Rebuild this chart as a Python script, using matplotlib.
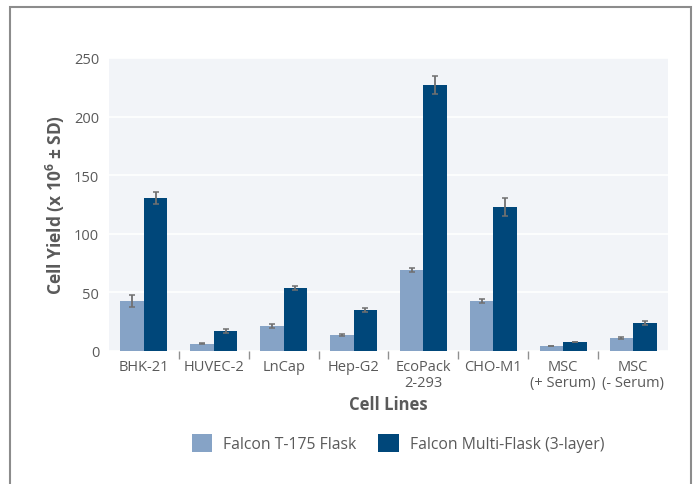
import numpy as np
import matplotlib
matplotlib.use("Agg")
import matplotlib.pyplot as plt
from matplotlib.patches import Rectangle

plt.rcParams['font.family'] = ['Open Sans', 'DejaVu Sans']
plt.rcParams['mathtext.fontset'] = 'custom'
plt.rcParams['mathtext.rm'] = 'Open Sans'
plt.rcParams['mathtext.bf'] = 'Open Sans:bold'

cell_lines = ['BHK-21', 'HUVEC-2', 'LnCap', 'Hep-G2', 'EcoPack\n2-293',
              'CHO-M1', 'MSC\n(+ Serum)', 'MSC\n(- Serum)']
t175 = [42.5, 6.0, 21.0, 13.4, 69.0, 42.5, 4.0, 10.8]
t175_sd = [5.5, 0.5, 1.5, 0.5, 1.7, 1.7, 0.3, 0.5]
multi = [130.5, 16.8, 53.5, 34.8, 227.0, 122.5, 7.4, 23.6]
multi_sd = [5.0, 1.8, 1.8, 1.8, 8.0, 7.5, 0.3, 1.8]

light = '#86a3c6'
dark = '#00477a'
txt = '#5a5a5a'

fig = plt.figure(figsize=(6.96, 4.85), dpi=100)
# outer frame
fig.patches.append(Rectangle((10 / 696, -0.1), 681 / 696, 1.1 - 8 / 485,
                             transform=fig.transFigure, fill=False,
                             edgecolor='#8c8c8c', linewidth=1.5))

ax = fig.add_axes([109 / 696, 1 - 351.7 / 485, 559 / 696, 292.7 / 485])
ax.set_facecolor('#f2f4f8')

x = np.arange(len(cell_lines))
w = 0.336
err_kw = dict(ecolor='#707070', elinewidth=1.3, capsize=2.5, capthick=1.1)
ax.bar(x - w / 2, t175, w, yerr=t175_sd, color=light, label='Falcon T-175 Flask',
       error_kw=err_kw, zorder=3)
ax.bar(x + w / 2, multi, w, yerr=multi_sd, color=dark,
       label='Falcon Multi-Flask (3-layer)', error_kw=err_kw, zorder=3)

ax.set_xlim(-0.5, len(cell_lines) - 0.5)
ax.set_ylim(0, 250)
ax.set_yticks([0, 50, 100, 150, 200, 250])
ax.yaxis.grid(True, color='white', linewidth=1.2, zorder=1)
ax.set_axisbelow(True)
for s in ax.spines.values():
    s.set_visible(False)

ax.set_xticks(x)
ax.set_xticklabels(cell_lines, linespacing=1.05)
ax.set_xticks(np.arange(0.5, len(cell_lines) - 1, 1.0), minor=True)
ax.tick_params(axis='x', which='major', length=0, pad=6, labelsize=10.5, labelcolor=txt)
ax.tick_params(axis='x', which='minor', length=6, width=1, color='#909090',
               direction='out')
ax.tick_params(axis='y', length=0, pad=7, labelsize=10.5, labelcolor=txt)

ax.set_ylabel(r'Cell Yield (x 10$^{\mathbf{6}}$ ± SD)', fontsize=12.5,
              fontweight='bold', color=txt, labelpad=5)
ax.set_xlabel('Cell Lines', fontsize=12, fontweight='bold', color=txt, labelpad=4)

leg = fig.legend(loc='center', bbox_to_anchor=(398 / 696, 1 - 444 / 485), ncol=2,
                 frameon=False, fontsize=11.3, handlelength=1.3, handleheight=1.4,
                 handletextpad=0.7, columnspacing=1.4)
for t in leg.get_texts():
    t.set_color(txt)

fig.savefig('out.png', dpi=100)
